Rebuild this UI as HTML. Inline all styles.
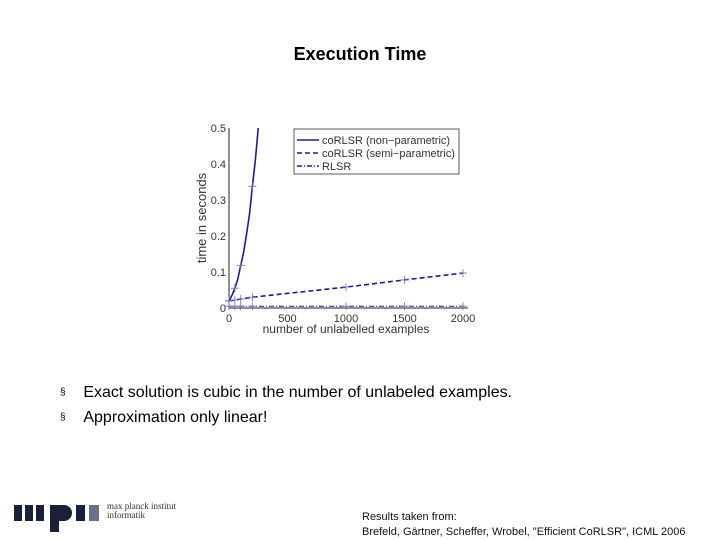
<!DOCTYPE html>
<html><head><meta charset="utf-8"><style>
body{margin:0;width:720px;height:540px;background:#fff;font-family:"Liberation Sans",sans-serif;position:relative;overflow:hidden}
.a{position:absolute;white-space:nowrap}
</style></head><body>
<div class="a" style="left:0;width:720px;text-align:center;top:44px;font-size:18px;font-weight:bold;color:#000">Execution Time</div>
<svg class="a" style="left:0;top:0" width="720" height="540" id="ch"></svg>
<div class="a" style="left:60px;top:384px;font-size:16px"><span style="font-size:10px;position:relative;top:-2px">§</span>&nbsp;&nbsp;&nbsp;&nbsp;Exact solution is cubic in the number of unlabeled examples.</div>
<div class="a" style="left:60px;top:409px;font-size:16px"><span style="font-size:10px;position:relative;top:-2px">§</span>&nbsp;&nbsp;&nbsp;&nbsp;Approximation only linear!</div>
<div class="a" style="left:14px;top:502px">
<div class="a" style="left:0;top:3px;width:8px;height:16px;background:#1a1f3a"></div>
<div class="a" style="left:11px;top:3px;width:8px;height:16px;background:#1a1f3a"></div>
<div class="a" style="left:22px;top:3px;width:8px;height:16px;background:#1a1f3a"></div>
<div class="a" style="left:36px;top:3px;width:22px;height:16px;background:#1a1f3a;border-radius:0 9px 9px 0"></div>
<div class="a" style="left:36px;top:3px;width:9px;height:27px;background:#1a1f3a"></div>
<div class="a" style="left:62px;top:3px;width:9px;height:16px;background:#1a1f3a"></div>
<div class="a" style="left:75px;top:3px;width:10px;height:16px;background:#6a7088"></div>
<div class="a" style="left:93px;top:0;font-family:'Liberation Serif',serif;font-size:9px;line-height:9px;color:#333">max planck institut<br>informatik</div>
</div>
<div class="a" style="left:362px;top:510px;font-size:11px;line-height:15px;color:#111">Results taken from:<br>Brefeld, Gärtner, Scheffer, Wrobel, "Efficient CoRLSR", ICML 2006</div>
<script>
const xTicks=[0,500,1000,1500,2000];
const yTicks=[0,0.1,0.2,0.3,0.4,0.5];
const npX=[0,25,50,75,100,125,150,175,200,225,250];
const npY=[0.02,0.035,0.055,0.08,0.118,0.155,0.205,0.26,0.338,0.41,0.5];
const npMarks=[0,50,100,200];
const spX=[0,50,100,200,1000,1500,2000];
const spY=[0.02,0.022,0.025,0.03,0.058,0.078,0.097];
const rX=[0,50,100,200,1000,1500,2000];
const rY=[0.005,0.005,0.005,0.005,0.005,0.005,0.005];
const X=v=>229+v*(463-229)/2000, Y=v=>308-v*(308-128)/0.5;
const s=document.getElementById('ch'),NS='http://www.w3.org/2000/svg';
function mk(t,a,txt){const e=document.createElementNS(NS,t);for(const k in a)e.setAttribute(k,a[k]);if(txt!=null)e.textContent=txt;s.appendChild(e);return e;}
let ax=mk('path',{d:`M${X(0)} ${Y(0.5)}V${Y(0)}H${X(2000)+5}`,stroke:'#222',fill:'none','stroke-width':1});


xTicks.forEach(v=>{let t=mk('text',{x:X(v),y:322,'font-size':11,'text-anchor':'middle',fill:'#333'},v);

});
yTicks.forEach(v=>{let t=mk('text',{x:X(0)-3,y:Y(v)+4,'font-size':11,'text-anchor':'end',fill:'#333'},v);

});
let xt=mk('text',{x:346,y:333,'font-size':12,'text-anchor':'middle',fill:'#333'},'number of unlabelled examples');


let yt=mk('text',{x:206,y:218,'font-size':13,'text-anchor':'middle',fill:'#333',transform:'rotate(-90 206 218)'},'time in seconds');


function marker(x,y){let m=mk('path',{d:`M${X(x)-4} ${Y(y)}h8M${X(x)} ${Y(y)-4}v8`,stroke:'#7070c0','stroke-width':0.8});

}
function line(xs,ys,dash,name,marks){let d=xs.map((x,i)=>(i?'L':'M')+X(x)+' '+Y(ys[i])).join('');
let p=mk('path',{d,stroke:'#1a1aa0',fill:'none','stroke-width':name=='rlsr-line'?1:1.6,'stroke-dasharray':dash,'stroke-linejoin':'round'});


xs.forEach((x,i)=>{if(marks&&!marks.includes(x))return;marker(x,ys[i]);});}
line(npX,npY,'','nonparametric-line',npMarks);
line(spX,spY,'5 3','semiparametric-line');
line(rX,rY,'5 2 1 2','rlsr-line');
let lb=mk('rect',{x:294,y:129,width:165,height:45,fill:'#fff',stroke:'#333','stroke-width':0.8});


[['','coRLSR (non−parametric)'],['5 3','coRLSR (semi−parametric)'],['5 2 1 2','RLSR']].forEach((e,i)=>{
let y=140+i*13;
let l=mk('path',{d:`M297 ${y}h22`,stroke:'#1a1aa0','stroke-width':1.4,'stroke-dasharray':e[0]});


let t=mk('text',{x:322,y:y+4,'font-size':11,fill:'#333'},e[1]);

});
</script>
</body></html>
